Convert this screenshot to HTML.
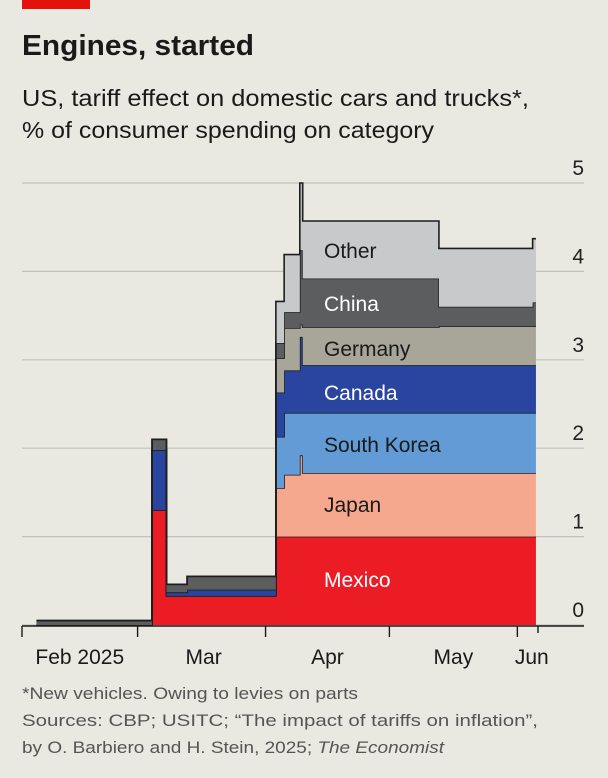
<!DOCTYPE html>
<html><head><meta charset="utf-8"><style>
html,body{margin:0;padding:0;background:#e9e8e1;}
svg{display:block;font-family:"Liberation Sans",sans-serif;}
</style></head><body>
<svg id="chart" width="608" height="778" viewBox="0 0 608 778">
<rect x="0" y="0" width="608" height="778" fill="#e9e8e1"/>
<rect x="22" y="0" width="68" height="9" fill="#e3120b"/>
<text x="22" y="55" font-size="29" font-weight="bold" fill="#1a1a1a" textLength="232" lengthAdjust="spacingAndGlyphs">Engines, started</text>
<text x="22" y="106" font-size="23" fill="#1a1a1a" textLength="507" lengthAdjust="spacingAndGlyphs">US, tariff effect on domestic cars and trucks*,</text>
<text x="22" y="138" font-size="23" fill="#1a1a1a" textLength="412" lengthAdjust="spacingAndGlyphs">% of consumer spending on category</text>
<g id="grid"></g>
<g id="layers"></g>
<g id="labels"></g>
<g id="xaxis"></g>
<text x="22" y="699" font-size="17" fill="#555" textLength="336" lengthAdjust="spacingAndGlyphs">*New vehicles. Owing to levies on parts</text>
<text x="22" y="726" font-size="17" fill="#555" textLength="516" lengthAdjust="spacingAndGlyphs">Sources: CBP; USITC; “The impact of tariffs on inflation”,</text>
<text x="22" y="753" font-size="17" fill="#555" textLength="422" lengthAdjust="spacingAndGlyphs">by O. Barbiero and H. Stein, 2025; <tspan font-style="italic">The Economist</tspan></text>
</svg>
<script>
// days since Feb 1 2025 for each step start; final end
const stepStarts = [3.5, 31.5, 35, 40, 61.5, 63.5, 67.3, 68, 101, 123.7];
const stepEnd = 124.5;
const seriesNames = ["Mexico","Japan","South Korea","Canada","Germany","China","Other"];
const mexico  = [0, 1.30, 0.33, 0.33, 1.00, 1.00, 1.00, 1.00, 1.00, 1.00];
const japan   = [0, 0, 0, 0, 0.55, 0.70, 0.92, 0.72, 0.72, 0.72];
const korea   = [0, 0, 0, 0, 0.58, 0.70, 0.48, 0.68, 0.68, 0.68];
const canada  = [0, 0.68, 0.04, 0.07, 0.50, 0.48, 0.86, 0.54, 0.54, 0.54];
const germany = [0, 0, 0, 0, 0.39, 0.48, 0.14, 0.43, 0.44, 0.44];
const china   = [0.05, 0.12, 0.09, 0.15, 0.17, 0.18, 0.84, 0.55, 0.22, 0.27];
const other   = [0, 0, 0, 0, 0.47, 0.65, 0.76, 0.65, 0.66, 0.72];
const yTicks = [0,1,2,3,4,5];
const monthLabels = ["Feb 2025","Mar","Apr","May","Jun"];
const monthTickDays = [0, 28, 59, 89, 120];
const monthLabelDays = [14, 44, 74, 104.5, 123.5];

const NS = "http://www.w3.org/2000/svg";
const X0 = 22, PX_PER_DAY = 4.128;
const Y0 = 625, PX_PER_UNIT = 88.4;
const xs = d => X0 + d * PX_PER_DAY;
const ys = v => Y0 - v * PX_PER_UNIT;
function mk(tag, attrs, parent){const e=document.createElementNS(NS,tag);for(const k in attrs)e.setAttribute(k,attrs[k]);parent.appendChild(e);return e;}

const grid = document.getElementById("grid");
yTicks.forEach(t=>{
  const l = mk("line",{x1:22,x2:584,y1:ys(t),y2:ys(t),stroke:"#c2c2bb","stroke-width":1.2},grid);
  
  
  const tx = mk("text",{x:584,y:ys(t)-8,"text-anchor":"end","font-size":21,fill:"#222"},grid);
  tx.textContent = t;
  
  
});

const series = [mexico, japan, korea, canada, germany, china, other];
const colors = ["#ec1c24","#f6a88e","#629bd6","#2a45a0","#a7a698","#5c5d5e","#c8c9cb"];
const keys = ["mexico","japan","south-korea","canada","germany","china","other"];
const n = stepStarts.length;
const base = new Array(n).fill(0);
const layers = document.getElementById("layers");
const bounds = i => [stepStarts[i], i+1<n ? stepStarts[i+1] : stepEnd];
series.forEach((vals, s)=>{
  const top = base.map((b,i)=>b+vals[i]);
  let topPts = [], botPts = [];
  for(let i=0;i<n;i++){const [a,b]=bounds(i);topPts.push([xs(a),ys(top[i])],[xs(b),ys(top[i])]);}
  for(let i=n-1;i>=0;i--){const [a,b]=bounds(i);botPts.push([xs(b),ys(base[i])],[xs(a),ys(base[i])]);}
  const pts = topPts.concat(botPts).map(p=>p.join(",")).join(" ");
  const poly = mk("polygon",{points:pts,fill:colors[s]},layers);
  
  
  const line = mk("polyline",{points:topPts.map(p=>p.join(",")).join(" "),fill:"none",stroke:"#1e1e1e","stroke-width":1.6},layers);
  
  
  for(let i=0;i<n;i++) base[i]=top[i];
});
// vertical outline edges
for(let i=0;i<n;i++){}
const labels = document.getElementById("labels");
const labelText = ["Mexico","Japan","South Korea","Canada","Germany","China","Other"];
const labelY = [587,512,452,400,356,311,258];
const labelFill = ["#fff","#1a1a1a","#1a1a1a","#fff","#1a1a1a","#fff","#1a1a1a"];
labelText.forEach((t,i)=>{
  const tx = mk("text",{x:324,y:labelY[i],"font-size":21,fill:labelFill[i]},labels);
  tx.textContent=t;
  
  
});
const xa = document.getElementById("xaxis");
const ax = mk("line",{x1:22,x2:584,y1:626,y2:626,stroke:"#1a1a1a","stroke-width":1.6},xa);


monthTickDays.concat([125]).forEach(d=>{
  const tk = mk("line",{x1:xs(d),x2:xs(d),y1:626,y2:d===125?633:637,stroke:"#1a1a1a","stroke-width":1.4},xa);
  
  
});
monthLabels.forEach((t,i)=>{
  const tx = mk("text",{x:xs(monthLabelDays[i]),y:664,"text-anchor":"middle","font-size":21,fill:"#1a1a1a"},xa);
  tx.textContent=t;
  
  
});
</script>
</body></html>
